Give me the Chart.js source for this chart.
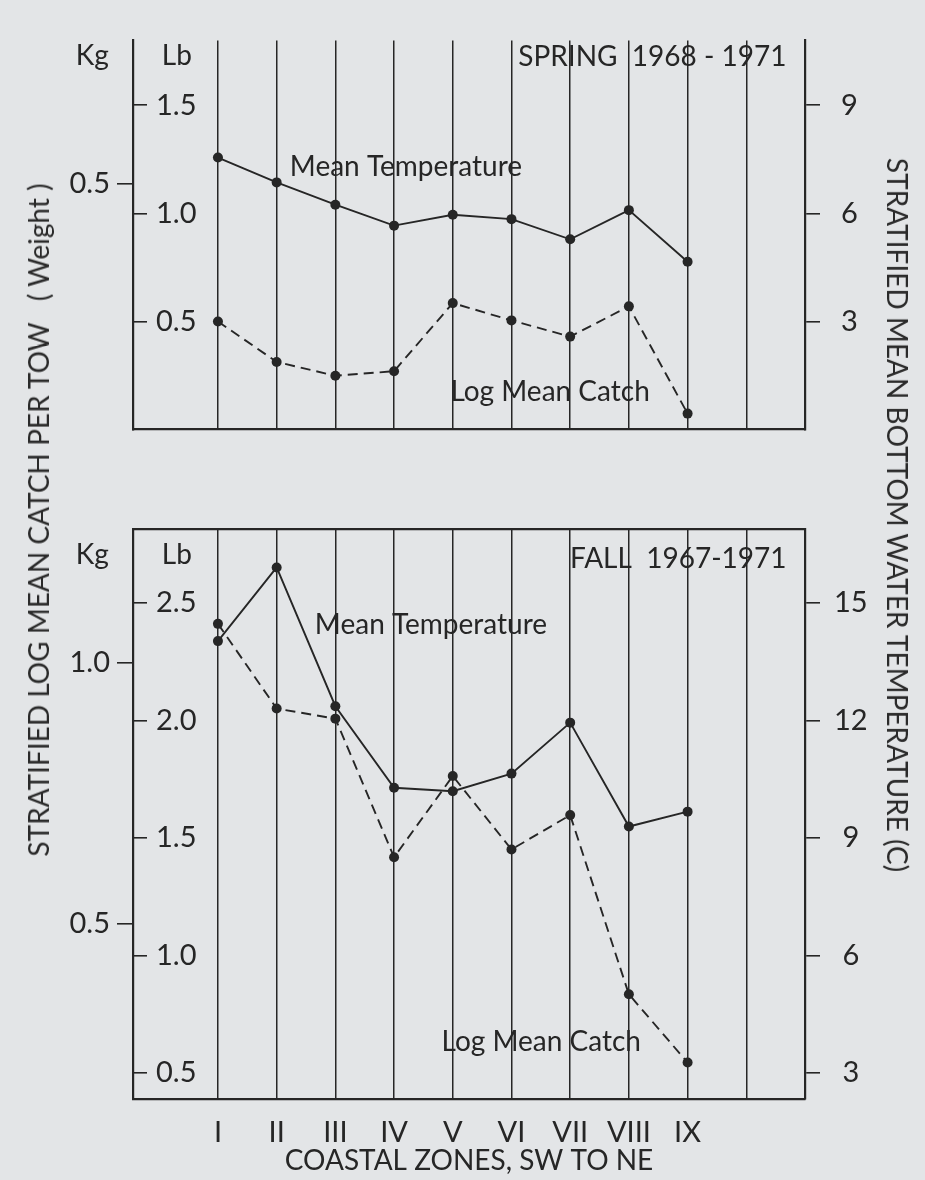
<!DOCTYPE html>
<html><head><meta charset="utf-8">
<script src="https://cdn.jsdelivr.net/npm/chart.js@4/dist/chart.umd.min.js"></script>
<style>
html,body{margin:0;padding:0;background:#e3e5e7;}
body{width:925px;height:1180px;position:relative;overflow:hidden;font-family:Lato,sans-serif;color:#262626;}
canvas{position:absolute;left:0;}
#c1{top:0;} #c2{top:480px;}
.vt{position:absolute;white-space:pre;font-size:28px;line-height:1;color:#2a2a2a;}
#lt{left:38px;top:520px;transform:translate(-50%,-50%) rotate(-90deg);}
#rt{left:898px;top:515px;transform:translate(-50%,-50%) rotate(90deg);}
</style></head>
<body>
<canvas id="c1" width="925" height="470"></canvas>
<canvas id="c2" width="925" height="700"></canvas>
<div id="lt" class="vt">STRATIFIED LOG MEAN CATCH PER TOW   ( Weight )</div>
<div id="rt" class="vt">STRATIFIED MEAN BOTTOM WATER TEMPERATURE (C)</div>
<script>
// ---- data ----
const zones = ['I','II','III','IV','V','VI','VII','VIII','IX'];
const springTemp = [7.55, 6.86, 6.24, 5.66, 5.96, 5.84, 5.28, 6.09, 4.66];
const springCatchLb = [0.50, 0.313, 0.249, 0.27, 0.585, 0.505, 0.43, 0.57, 0.074];
const fallTemp = [14.02, 15.9, 12.36, 10.28, 10.19, 10.64, 11.94, 9.29, 9.67];
const fallCatchLb = [2.41, 2.05, 2.007, 1.418, 1.763, 1.451, 1.597, 0.835, 0.545];
const springLbTicks = [0.5, 1.0, 1.5];
const springKgTicks = [0.5];
const springTempTicks = [3, 6, 9];
const fallLbTicks = [0.5, 1.0, 1.5, 2.0, 2.5];
const fallKgTicks = [0.5, 1.0];
const fallTempTicks = [3, 6, 9, 12, 15];
const gridPositions = [0, 1, 2, 3, 4, 5, 6, 7, 8, 9];

// ---- styling ----
const ink = '#262626';
const fam = 'Lato, sans-serif';
const LB_PER_KG = 2.218, LB_OFF = 0.027;
const kgOf = lb => (lb - LB_OFF) / LB_PER_KG;
const tempOf = lb => lb * 6;

const textPlugin = {
  id: 'panelText',
  afterDraw(chart, args, opts) {
    const ctx = chart.ctx, xs = chart.scales.x, ys = chart.scales.yLb;
    ctx.save();
    ctx.fillStyle = ink;
    ctx.textBaseline = 'middle';
    for (const t of opts.items) {
      ctx.font = (t.size || 28) + 'px ' + fam;
      ctx.textAlign = t.align || 'left';
      ctx.fillText(t.text, xs.getPixelForValue(t.x), ys.getPixelForValue(t.y));
    }
    ctx.restore();
  }
};

function makeChart(id, c) {
  const tickFont = {family: fam, size: 29};
  const scales = {
    x: {
      type: 'linear', position: 'bottom', min: -1.447, max: 10,
      afterBuildTicks: s => { s.ticks = gridPositions.map(v => ({value: v})); },
      ticks: {display: c.showX, autoSkip: false, maxRotation: 0, padding: 16, font: {family: fam, size: 29}, color: ink,
        callback: v => (zones[v] !== undefined ? zones[v] : '')},
      grid: {color: ink, lineWidth: 1.5, drawTicks: false, drawOnChartArea: true},
      border: {display: true, color: ink, width: 2.2},
      title: {display: c.showX, text: 'COASTAL ZONES, SW TO NE', font: {family: fam, size: 28}, color: ink, padding: {top: 0, bottom: 2}},
      afterFit: s => { s.height = c.xHeight; }
    },
    yLb: {
      type: 'linear', position: 'left', weight: 0, min: c.lbMin, max: c.lbMax,
      afterBuildTicks: s => { s.ticks = c.lbTicks.map(v => ({value: v})); },
      ticks: {mirror: true, padding: 23, font: tickFont, color: ink, callback: v => v.toFixed(1)},
      grid: {drawOnChartArea: false, drawTicks: true, tickLength: -14, color: ink, lineWidth: 1.6},
      border: {display: true, color: ink, width: 2.2},
      afterFit: s => { s.width = 0; }
    },
    yKg: {
      type: 'linear', position: 'left', weight: 1, min: kgOf(c.lbMin), max: kgOf(c.lbMax),
      afterBuildTicks: s => { s.ticks = c.kgTicks.map(v => ({value: v})); },
      ticks: {padding: 7, font: tickFont, color: ink, callback: v => v.toFixed(1)},
      grid: {drawOnChartArea: false, drawTicks: true, tickLength: 16, color: ink, lineWidth: 1.6},
      border: {display: false},
      afterFit: s => { s.width = 133; }
    },
    yT: {
      type: 'linear', position: 'right', min: tempOf(c.lbMin), max: tempOf(c.lbMax),
      afterBuildTicks: s => { s.ticks = c.tempTicks.map(v => ({value: v})); },
      ticks: {padding: c.tPad, crossAlign: 'center', font: tickFont, color: ink, callback: v => String(v)},
      grid: {drawOnChartArea: false, drawTicks: true, tickLength: 15, color: ink, lineWidth: 1.6},
      border: {display: true, color: ink, width: 2.2},
      afterFit: s => { s.width = 120; }
    }
  };
  if (c.topBorder) {
    scales.xTop = {
      type: 'linear', position: 'top', min: -1.447, max: 10,
      ticks: {display: false}, grid: {display: false, drawTicks: false},
      border: {display: true, color: ink, width: 2.2},
      afterFit: s => { s.height = c.topPad; }
    };
  }
  const line = {borderColor: ink, borderWidth: 1.9, pointRadius: 5, pointBackgroundColor: ink,
    pointBorderWidth: 0, tension: 0, fill: false, xAxisID: 'x'};
  return new Chart(document.getElementById(id), {
    type: 'line',
    data: {
      datasets: [
        Object.assign({label: 'Mean Temperature', data: c.temp.map((v, i) => ({x: i, y: v})), yAxisID: 'yT'}, line),
        Object.assign({label: 'Log Mean Catch', data: c.catchLb.map((v, i) => ({x: i, y: v})), yAxisID: 'yLb', borderDash: [10, 6]}, line)
      ]
    },
    options: {
      responsive: false, animation: false, devicePixelRatio: 1,
      layout: {padding: {top: c.topBorder ? 0 : c.topPad, left: 0, right: 0, bottom: 0}, autoPadding: false},
      plugins: {legend: {display: false}, tooltip: {enabled: false}, panelText: {items: c.labels}},
      scales
    },
    plugins: [textPlugin]
  });
}

makeChart('c1', {
  temp: springTemp, catchLb: springCatchLb, lbMin: 0, lbMax: 1.8,
  lbTicks: springLbTicks, kgTicks: springKgTicks, tempTicks: springTempTicks,
  showX: false, xHeight: 37, topPad: 10, topBorder: false, tPad: 21,
  labels: [
    {text: 'Kg', x: -2.14, y: 1.728, align: 'center'},
    {text: 'Lb', x: -0.70, y: 1.728, align: 'center'},
    {text: 'SPRING  1968 - 1971', x: 9.685, y: 1.723, align: 'right'},
    {text: 'Mean Temperature', x: 1.225, y: 1.213},
    {text: 'Log Mean Catch', x: 3.96, y: 0.174}
  ]
});
makeChart('c2', {
  temp: fallTemp, catchLb: fallCatchLb, lbMin: 0.39, lbMax: 2.815,
  lbTicks: fallLbTicks, kgTicks: fallKgTicks, tempTicks: fallTempTicks,
  showX: true, xHeight: 81, topPad: 48.6, topBorder: true, tPad: 14,
  labels: [
    {text: 'Kg', x: -2.14, y: 2.703, align: 'center'},
    {text: 'Lb', x: -0.70, y: 2.703, align: 'center'},
    {text: 'FALL  1967-1971', x: 9.685, y: 2.686, align: 'right'},
    {text: 'Mean Temperature', x: 1.651, y: 2.405},
    {text: 'Log Mean Catch', x: 3.81, y: 0.632}
  ]
});
</script>
</body></html>
